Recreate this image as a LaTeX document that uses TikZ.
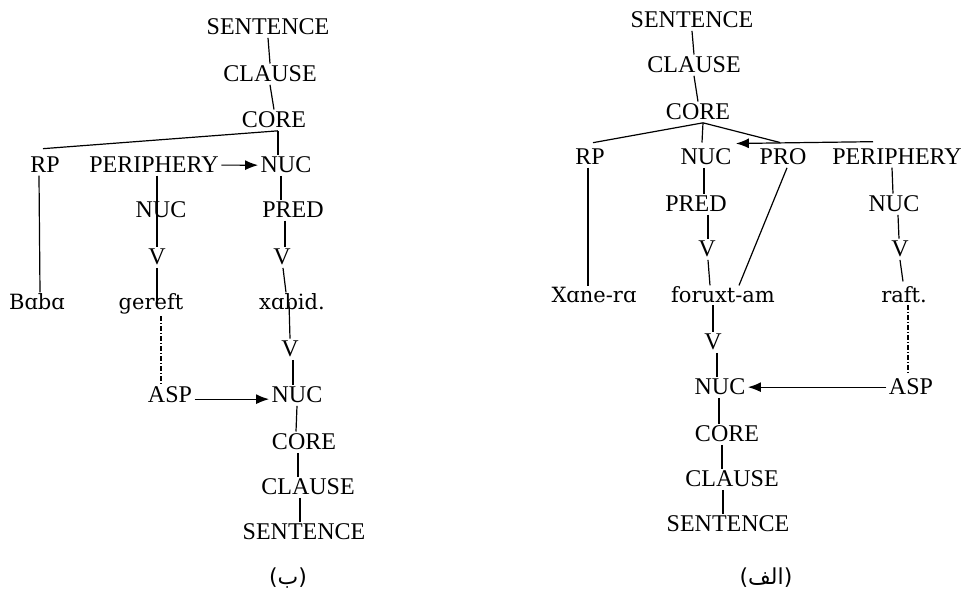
\documentclass[tikz,border=0pt]{standalone}
\usepackage{fontspec}
\setmainfont{Liberation Serif}
\newfontfamily\wordfont{DejaVu Serif}
\newfontfamily\arabicfont[Script=Arabic]{DejaVu Sans}
\newfontfamily\parenfont{DejaVu Sans}
\TeXXeTstate=1
\usepackage{tikz}
\usetikzlibrary{arrows.meta}
\tikzset{lbl/.style={anchor=base, inner sep=1pt, font=\fontsize{12}{14}\selectfont}}
\tikzset{word/.style={anchor=base, inner sep=0.5pt, font=\wordfont\fontsize{10.5}{12}\selectfont}}
\tikzset{capt/.style={anchor=center, inner sep=0pt, font=\parenfont\fontsize{11}{13}\selectfont}}
\tikzset{arr/.style={-{Latex[length=6.5pt,width=5pt]}}}
\tikzset{asplink/.style={dash pattern=on 2.5pt off 1pt on 0.5pt off 1pt}}

\begin{document}
\begin{tikzpicture}[x=0.5pt, y=-0.5pt, line width=0.6pt]
  \useasboundingbox (0,0) rectangle (966,592);

  % left tree (b)
  \node [lbl] (sentLa) at (268, 35) {SENTENCE};
  \node [lbl] (clauseLa) at (270, 82) {CLAUSE};
  \node [lbl] (coreLa) at (274, 128) {CORE};
  \node [lbl] (rpL) at (45, 173) {RP};
  \node [lbl] (periL) at (154, 173) {PERIPHERY};
  \node [lbl] (nucLa) at (286, 173) {NUC};
  \node [lbl] (nucLb) at (161, 218) {NUC};
  \node [lbl] (predL) at (293, 218) {PRED};
  \node [lbl] (vLa) at (157, 265) {V};
  \node [lbl] (vLb) at (282, 265) {V};
  \node [word] (baba) at (37, 310) {Bɑbɑ};
  \node [word] (gereft) at (151, 310) {gereft};
  \node [word] (xabid) at (292, 310) {xɑbid.};
  \node [lbl] (vLc) at (290, 357) {V};
  \node [lbl] (aspL) at (170, 403) {ASP};
  \node [lbl] (nucLc) at (297, 403) {NUC};
  \node [lbl] (coreLb) at (304, 450) {CORE};
  \node [lbl] (clauseLb) at (308, 495) {CLAUSE};
  \node [lbl] (sentLb) at (304, 540) {SENTENCE};
  \node [capt] (capL) at (288, 578) {({\arabicfont\beginR ب\endR})};

  \draw[] (sentLa.south) -- (clauseLa.north);
  \draw[] (clauseLa.south) -- (coreLa.north);
  \draw[] ([xshift=2pt]coreLa.south) -- ([xshift=-4pt]nucLa.north);
  \draw[] ([xshift=2pt]coreLa.south) -- ([xshift=-1pt,yshift=3pt]rpL.north);
  \draw[arr] (periL.east) -- (nucLa.west);
  \draw[] ([xshift=1.5pt]periL.south) -- ([xshift=-2pt]nucLb.center);
  \draw[] ([xshift=-2pt]nucLb.center) -- (vLa.north);
  \draw[] ([xshift=-2.5pt]nucLa.south) -- ([xshift=-6pt]predL.north);
  \draw[] ([xshift=-4pt]predL.south) -- ([xshift=1.5pt]vLb.north);
  \draw[] ([xshift=-3pt]rpL.south) -- ([xshift=1.5pt]baba.north);
  \draw[] (vLa.south) -- ([xshift=3pt]gereft.center);
  \draw[] ([xshift=0.5pt]vLb.south) -- ([xshift=-3pt]xabid.north);
  \draw[asplink] ([xshift=5pt]gereft.south) -- ([xshift=-4.5pt]aspL.north);
  \draw[] ([xshift=-1.5pt]xabid.center) -- (vLc.north);
  \draw[] ([xshift=1.5pt]vLc.south) -- ([xshift=-2pt]nucLc.north);
  \draw[arr] ([yshift=-2pt]aspL.east) -- ([yshift=-2pt]nucLc.west);
  \draw[] (nucLc.south) -- ([xshift=-4pt]coreLb.north);
  \draw[] ([xshift=-3pt]coreLb.south) -- ([xshift=-5pt]clauseLb.north);
  \draw[] ([xshift=-4pt]clauseLb.south) -- ([xshift=-2pt]sentLb.north);

  % right tree (alef)
  \node [lbl] (sentRa) at (692, 28) {SENTENCE};
  \node [lbl] (clauseRa) at (694, 73) {CLAUSE};
  \node [lbl] (coreRa) at (698, 120) {CORE};
  \node [lbl] (rpR) at (590, 165) {RP};
  \node [lbl] (nucRa) at (706, 165) {NUC};
  \node [lbl] (proR) at (783, 165) {PRO};
  \node [lbl] (periR) at (897, 165) {PERIPHERY};
  \node [lbl] (predR) at (696, 212) {PRED};
  \node [lbl] (nucRb) at (894, 212) {NUC};
  \node [lbl] (vRa) at (707, 257) {V};
  \node [lbl] (vRb) at (900, 257) {V};
  \node [word] (xane) at (594, 303) {Xɑne-rɑ};
  \node [word] (forux) at (723, 303) {foruxt-am};
  \node [word] (raft) at (904, 303) {raft.};
  \node [lbl] (vRc) at (713, 350) {V};
  \node [lbl] (nucRc) at (720, 395) {NUC};
  \node [lbl] (aspR) at (911, 395) {ASP};
  \node [lbl] (coreRb) at (727, 442) {CORE};
  \node [lbl] (clauseRb) at (732, 487) {CLAUSE};
  \node [lbl] (sentRb) at (728, 532) {SENTENCE};
  \node [capt] (capR) at (766, 578) {({\arabicfont\beginR الف\endR})};

  \draw[] (sentRa.south) -- (clauseRa.north);
  \draw[] (clauseRa.south) -- (coreRa.north);
  \draw[] ([xshift=2.5pt]coreRa.south) -- ([xshift=1.5pt,yshift=2pt]rpR.north);
  \draw[] ([xshift=2.5pt]coreRa.south) -- ([xshift=-2pt,yshift=2pt]nucRa.north);
  \draw[] ([xshift=2.5pt]coreRa.south) -- ([xshift=-1.5pt,yshift=2pt]proR.north);
  \draw[arr] ([xshift=-12pt,yshift=2.5pt]periR.north) -- ([xshift=1pt,yshift=1.5pt]nucRa.north east);
  \draw[] ([xshift=-1pt]rpR.south) -- ([xshift=-3pt]xane.north);
  \draw[] ([xshift=-1pt]nucRa.south) -- ([xshift=4pt]predR.north);
  \draw[] ([xshift=6pt]predR.south) -- ([xshift=0.5pt]vRa.north);
  \draw[] ([xshift=0.5pt]vRa.south) -- ([xshift=-6.5pt]forux.north);
  \draw[] ([xshift=2pt]proR.south) -- ([xshift=8pt]forux.north);
  \draw[] ([xshift=-2.5pt]periR.south) -- ([xshift=-0.5pt]nucRb.north);
  \draw[] ([xshift=2pt]nucRb.south) -- ([xshift=-0.5pt]vRb.north);
  \draw[] (vRb.south) -- ([xshift=-0.5pt,yshift=2pt]raft.north);
  \draw[asplink] ([xshift=2pt]raft.south) -- ([xshift=-1.5pt,yshift=2pt]aspR.north);
  \draw[] ([xshift=-5pt]forux.south) -- (vRc.north);
  \draw[] ([xshift=2pt]vRc.south) -- ([xshift=-1.5pt]nucRc.north);
  \draw[arr] (aspR.west) -- (nucRc.east);
  \draw[] ([xshift=-0.5pt]nucRc.south) -- ([xshift=-4pt]coreRb.north);
  \draw[] ([xshift=-2.5pt]coreRb.south) -- ([xshift=-5pt]clauseRb.north);
  \draw[] ([xshift=-4.5pt]clauseRb.south) -- ([xshift=-2.5pt]sentRb.north);
\end{tikzpicture}
\end{document}
